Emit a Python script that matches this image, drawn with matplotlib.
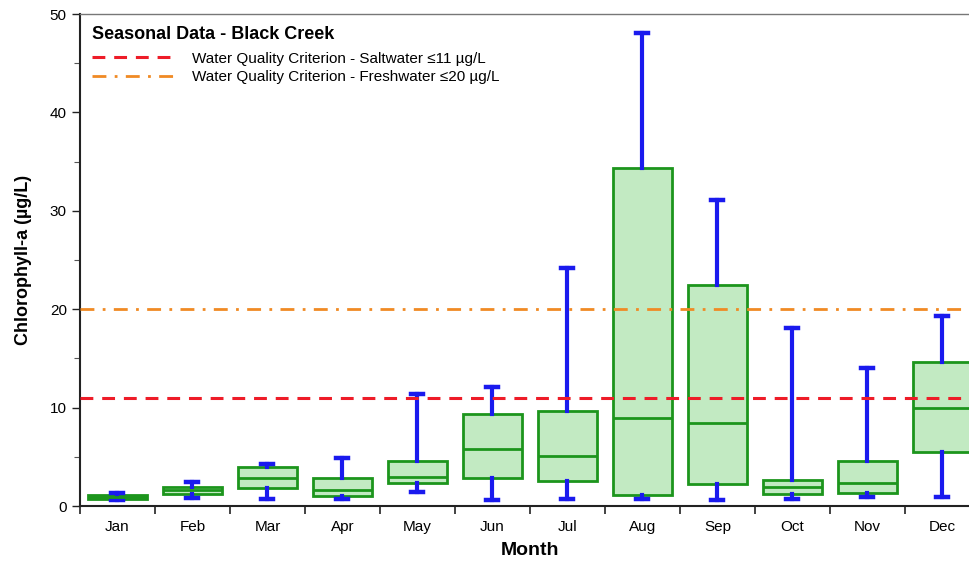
import matplotlib
matplotlib.use("Agg")
import matplotlib.pyplot as plt
from matplotlib.ticker import MultipleLocator, FixedLocator, NullFormatter

plt.rcParams['font.family'] = ['Liberation Sans', 'DejaVu Sans']

months = ["Jan", "Feb", "Mar", "Apr", "May", "Jun", "Jul", "Aug", "Sep", "Oct", "Nov", "Dec"]
whisker_low = [0.6, 0.8, 0.68, 0.74, 1.46, 0.61, 0.68, 0.68, 0.61, 0.68, 0.95, 0.95]
q1 = [0.74, 1.22, 1.8, 1.05, 2.38, 2.87, 2.57, 1.08, 2.23, 1.25, 1.29, 5.5]
median = [0.9, 1.63, 2.85, 1.63, 2.99, 5.79, 5.11, 8.97, 8.4, 1.96, 2.3, 10.0]
q3 = [1.12, 1.97, 3.94, 2.88, 4.62, 9.31, 9.68, 34.4, 22.5, 2.64, 4.53, 14.65]
whisker_high = [1.3, 2.4, 4.25, 4.92, 11.37, 12.1, 24.2, 48.1, 31.1, 18.1, 14.0, 19.3]

saltwater_criterion = 11
freshwater_criterion = 20

fig = plt.figure(figsize=(9.70, 5.66), dpi=100)
ax = fig.add_axes([80/970, 1 - 506/566, 900/970, (506 - 14)/566])

stats = []
for i, m in enumerate(months):
    stats.append(dict(label=m, whislo=whisker_low[i], q1=q1[i], med=median[i],
                      q3=q3[i], whishi=whisker_high[i], fliers=[]))

positions = list(range(len(months)))
green = "#1c951c"
ax.bxp(stats, positions=positions, widths=0.79, patch_artist=True,
       showfliers=False,
       boxprops=dict(facecolor="#c2eac2", edgecolor=green, linewidth=2.0),
       medianprops=dict(color=green, linewidth=2.0),
       whiskerprops=dict(color="#1a1aee", linewidth=3.0),
       capprops=dict(color="#1a1aee", linewidth=3.2),
       capwidths=0.16, zorder=3)

l1 = ax.axhline(saltwater_criterion, color="#ee1c28", linestyle=(0, (4.2, 2.9)), linewidth=2.2,
                label="Water Quality Criterion - Saltwater \u226411 \u00b5g/L", zorder=4)
l2 = ax.axhline(freshwater_criterion, color="#f08a24", linestyle=(0, (5, 3, 1, 3)), linewidth=2.0,
                label="Water Quality Criterion - Freshwater \u226420 \u00b5g/L", zorder=4)

ax.set_xlim(-0.5, 11.5)
ax.set_ylim(0, 50)
ax.yaxis.set_major_locator(MultipleLocator(10))
ax.yaxis.set_minor_locator(MultipleLocator(5))
ax.set_xticks(positions)
ax.set_xticklabels(months)
ax.tick_params(axis='x', which='major', length=0, pad=10, labelsize=11)
ax.xaxis.set_minor_locator(FixedLocator([p + 0.5 for p in range(-1, 12)]))
ax.xaxis.set_minor_formatter(NullFormatter())
ax.tick_params(axis='x', which='minor', length=6, width=1.2, direction='out', color='#222222')
ax.tick_params(axis='y', which='major', length=6, width=1.0, labelsize=11, color='#222222')
ax.tick_params(axis='y', which='minor', length=4, width=0.8, color='#555555')

for s in ['left', 'bottom']:
    ax.spines[s].set_linewidth(1.5)
    ax.spines[s].set_color('#222222')
ax.spines['top'].set_linewidth(1.0)
ax.spines['top'].set_color('#777777')
ax.spines['right'].set_visible(False)

ax.set_xlabel("Month", fontsize=14, fontweight='bold', labelpad=6)
ax.set_ylabel("Chlorophyll-a (\u00b5g/L)", fontsize=13, fontweight='bold', labelpad=13)

leg = ax.legend(handles=[l1, l2], loc='upper left', frameon=False, fontsize=11,
                title="Seasonal Data - Black Creek", title_fontproperties=dict(weight='bold', size=13),
                handlelength=5.4, handletextpad=1.1, borderaxespad=0.5, borderpad=0.3,
                labelspacing=0.3, alignment='left')
leg._legend_box.sep = 6

fig.savefig("out.png", dpi=100)
